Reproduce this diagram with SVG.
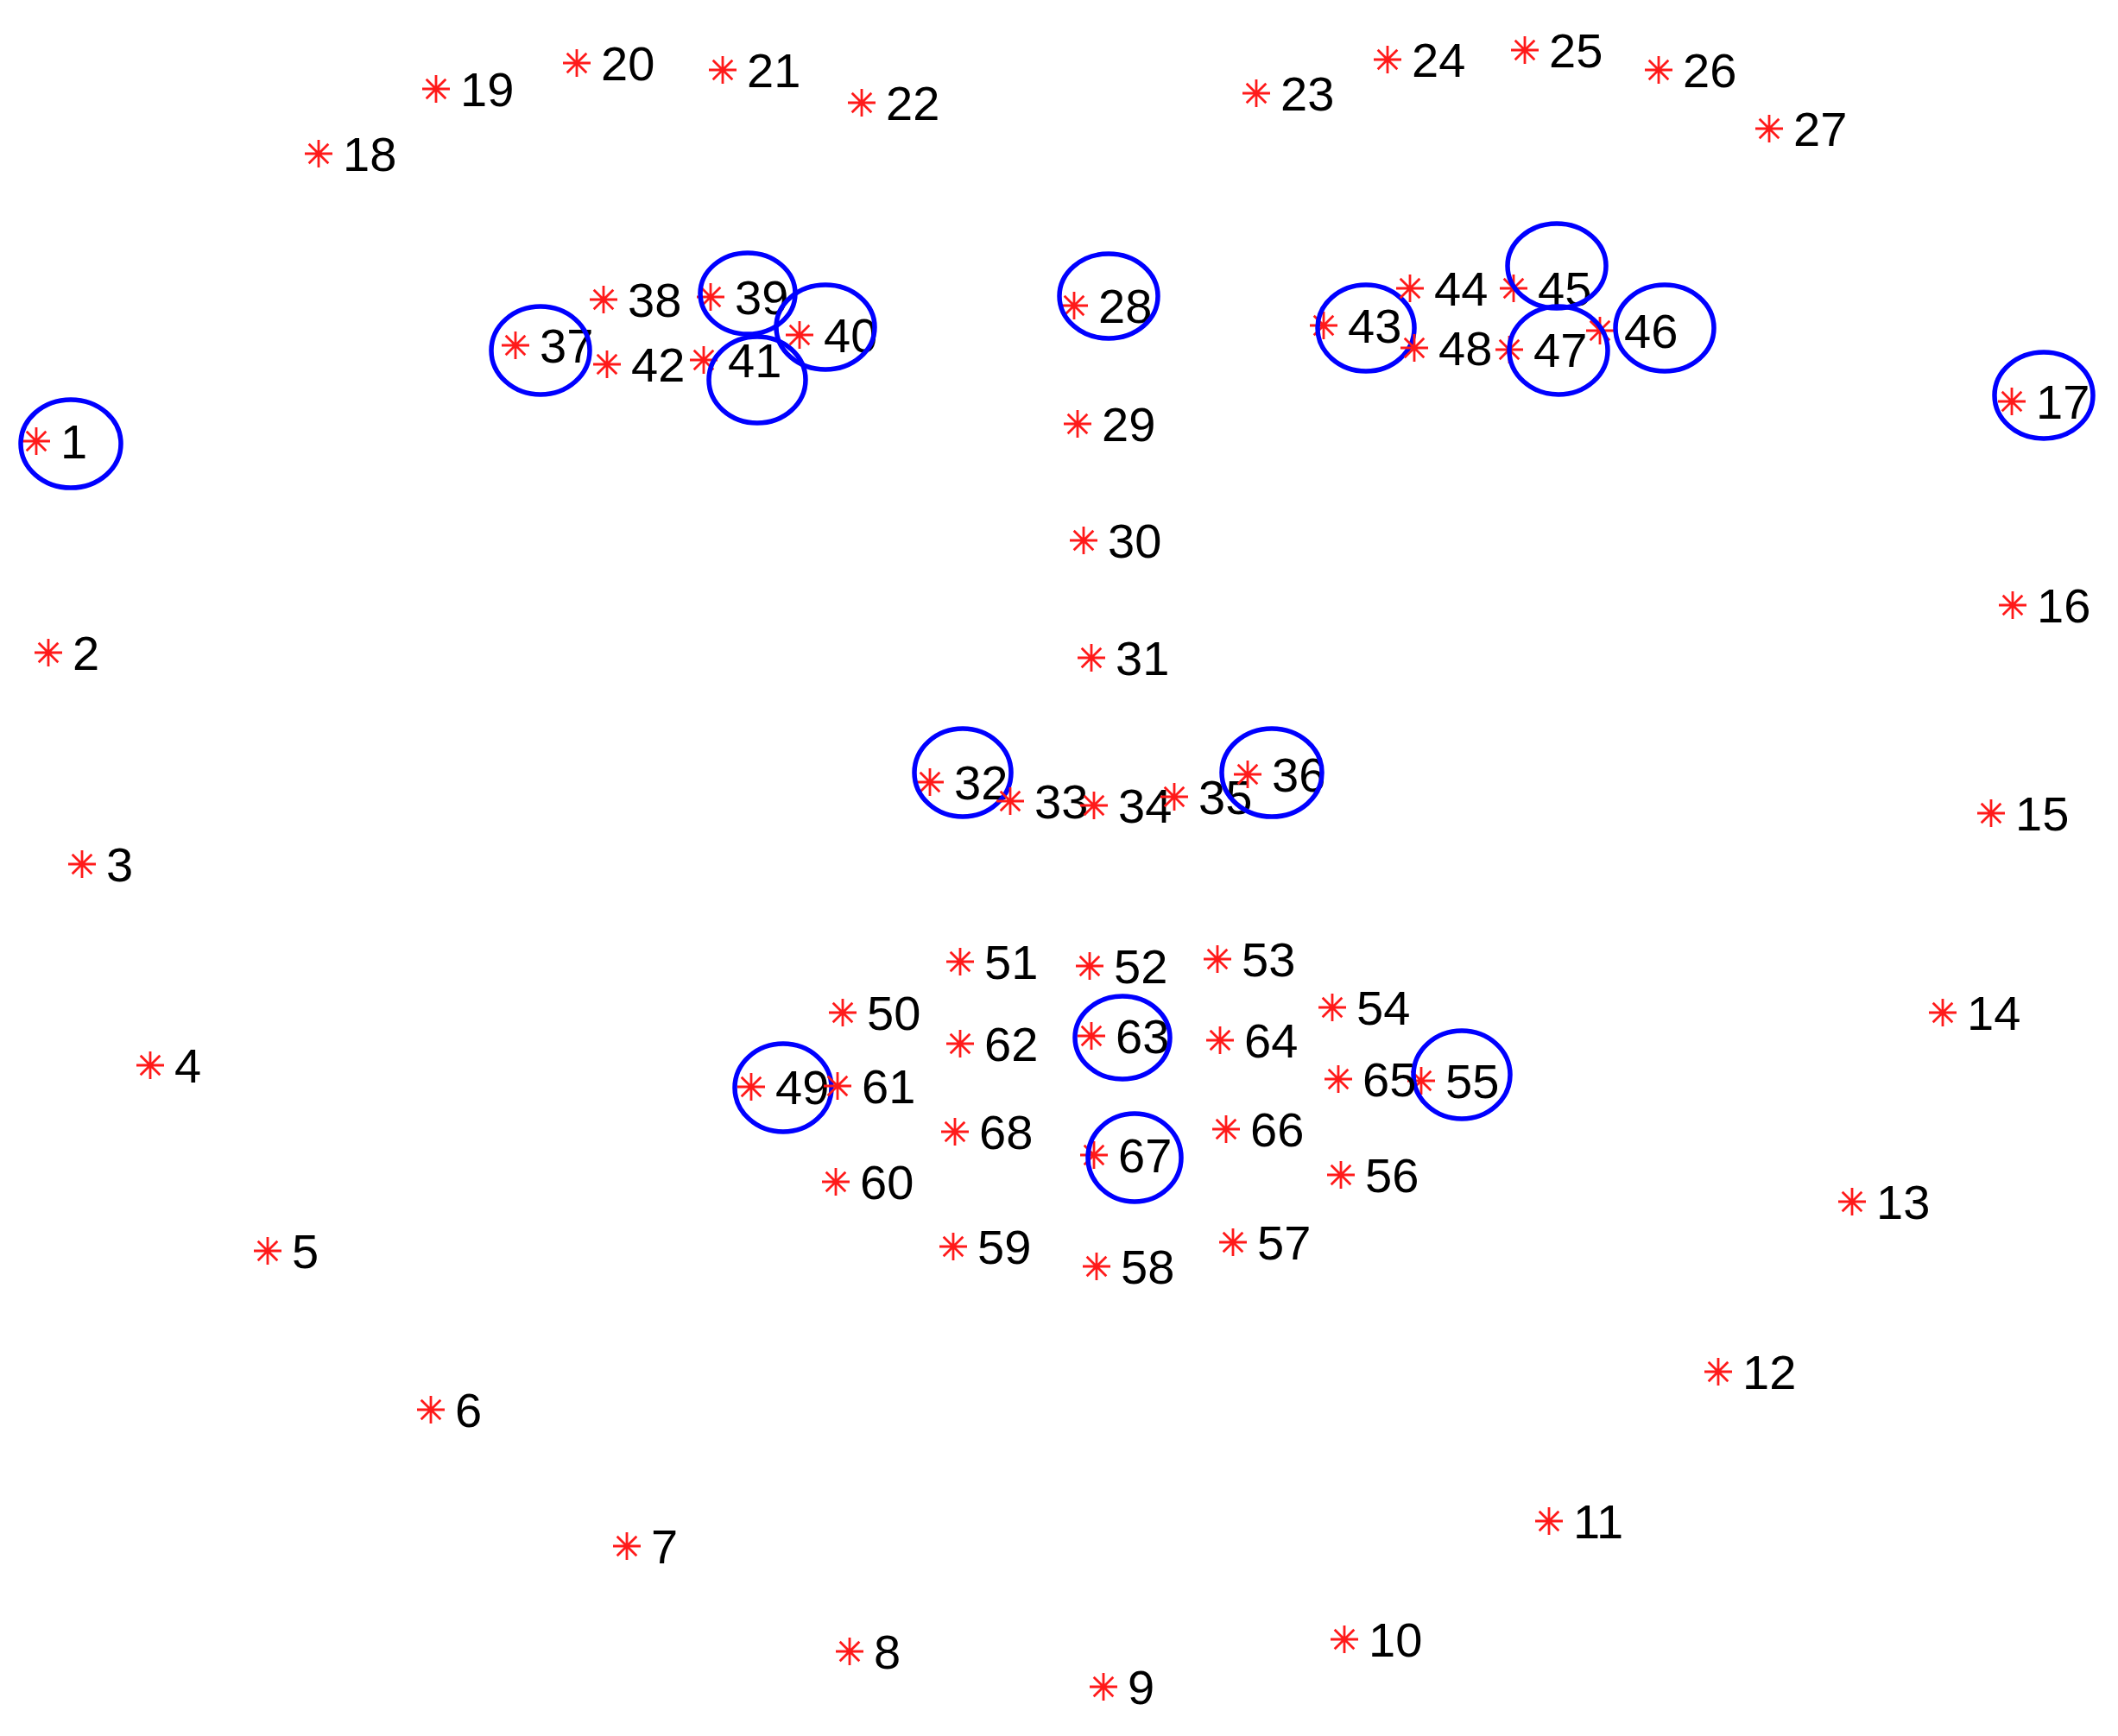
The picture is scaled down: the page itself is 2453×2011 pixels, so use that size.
<svg xmlns="http://www.w3.org/2000/svg" xmlns:xlink="http://www.w3.org/1999/xlink" width="2453" height="2011" viewBox="0 0 2453 2011">
<style>
.s{fill:none;stroke:#ff1a1a;stroke-width:2.8;stroke-linecap:butt}
.t{font-family:"Liberation Sans",Arial,sans-serif;font-size:56px;fill:#000}
.c{fill:none;stroke:#0000ff;stroke-width:5.5}
</style>
<defs>
<path id="st" class="s" d="M-16 0H16M0-16V16M-11.3-11.3L11.3 11.3M-11.3 11.3L11.3-11.3"/>
</defs>
<rect width="2453" height="2011" fill="#fff"/>
<g id="landmarks">
<g id="p1"><use href="#st" x="42" y="511"/><text class="t" x="70" y="531">1</text><ellipse class="c" cx="82" cy="514" rx="58" ry="51"/></g>
<g id="p2"><use href="#st" x="56" y="756"/><text class="t" x="84" y="776">2</text></g>
<g id="p3"><use href="#st" x="95" y="1001"/><text class="t" x="123" y="1021">3</text></g>
<g id="p4"><use href="#st" x="174" y="1234"/><text class="t" x="202" y="1254">4</text></g>
<g id="p5"><use href="#st" x="310" y="1449"/><text class="t" x="338" y="1469">5</text></g>
<g id="p6"><use href="#st" x="499" y="1633"/><text class="t" x="527" y="1653">6</text></g>
<g id="p7"><use href="#st" x="726" y="1791"/><text class="t" x="754" y="1811">7</text></g>
<g id="p8"><use href="#st" x="984" y="1913"/><text class="t" x="1012" y="1933">8</text></g>
<g id="p9"><use href="#st" x="1278" y="1954"/><text class="t" x="1306" y="1974">9</text></g>
<g id="p10"><use href="#st" x="1557" y="1899"/><text class="t" x="1585" y="1919">10</text></g>
<g id="p11"><use href="#st" x="1794" y="1762"/><text class="t" x="1822" y="1782">11</text></g>
<g id="p12"><use href="#st" x="1990" y="1589"/><text class="t" x="2018" y="1609">12</text></g>
<g id="p13"><use href="#st" x="2145" y="1392"/><text class="t" x="2173" y="1412">13</text></g>
<g id="p14"><use href="#st" x="2250" y="1173"/><text class="t" x="2278" y="1193">14</text></g>
<g id="p15"><use href="#st" x="2306" y="942"/><text class="t" x="2334" y="962">15</text></g>
<g id="p16"><use href="#st" x="2331" y="701"/><text class="t" x="2359" y="721">16</text></g>
<g id="p17"><use href="#st" x="2330" y="465"/><text class="t" x="2358" y="485">17</text><ellipse class="c" cx="2367" cy="458" rx="57" ry="50"/></g>
<g id="p18"><use href="#st" x="369" y="178"/><text class="t" x="397" y="198">18</text></g>
<g id="p19"><use href="#st" x="505" y="103"/><text class="t" x="533" y="123">19</text></g>
<g id="p20"><use href="#st" x="668" y="73"/><text class="t" x="696" y="93">20</text></g>
<g id="p21"><use href="#st" x="837" y="81"/><text class="t" x="865" y="101">21</text></g>
<g id="p22"><use href="#st" x="998" y="119"/><text class="t" x="1026" y="139">22</text></g>
<g id="p23"><use href="#st" x="1455" y="108"/><text class="t" x="1483" y="128">23</text></g>
<g id="p24"><use href="#st" x="1607" y="69"/><text class="t" x="1635" y="89">24</text></g>
<g id="p25"><use href="#st" x="1766" y="58"/><text class="t" x="1794" y="78">25</text></g>
<g id="p26"><use href="#st" x="1921" y="81"/><text class="t" x="1949" y="101">26</text></g>
<g id="p27"><use href="#st" x="2049" y="149"/><text class="t" x="2077" y="169">27</text></g>
<g id="p28"><use href="#st" x="1244" y="354"/><text class="t" x="1272" y="374">28</text><ellipse class="c" cx="1284" cy="343" rx="57" ry="49"/></g>
<g id="p29"><use href="#st" x="1248" y="491"/><text class="t" x="1276" y="511">29</text></g>
<g id="p30"><use href="#st" x="1255" y="626"/><text class="t" x="1283" y="646">30</text></g>
<g id="p31"><use href="#st" x="1264" y="762"/><text class="t" x="1292" y="782">31</text></g>
<g id="p32"><use href="#st" x="1077" y="906"/><text class="t" x="1105" y="926">32</text><ellipse class="c" cx="1115" cy="895" rx="56" ry="51"/></g>
<g id="p33"><use href="#st" x="1170" y="928"/><text class="t" x="1198" y="948">33</text></g>
<g id="p34"><use href="#st" x="1267" y="933"/><text class="t" x="1295" y="953">34</text></g>
<g id="p35"><use href="#st" x="1360" y="923"/><text class="t" x="1388" y="943">35</text></g>
<g id="p36"><use href="#st" x="1445" y="897"/><text class="t" x="1473" y="917">36</text><ellipse class="c" cx="1473" cy="895" rx="58" ry="51"/></g>
<g id="p37"><use href="#st" x="597" y="400"/><text class="t" x="625" y="420">37</text><ellipse class="c" cx="626" cy="406" rx="57" ry="51"/></g>
<g id="p38"><use href="#st" x="699" y="347"/><text class="t" x="727" y="367">38</text></g>
<g id="p39"><use href="#st" x="823" y="344"/><text class="t" x="851" y="364">39</text><ellipse class="c" cx="866" cy="340" rx="55" ry="47"/></g>
<g id="p40"><use href="#st" x="926" y="388"/><text class="t" x="954" y="408">40</text><ellipse class="c" cx="956" cy="379" rx="57" ry="49"/></g>
<g id="p41"><use href="#st" x="815" y="417"/><text class="t" x="843" y="437">41</text><ellipse class="c" cx="877" cy="440" rx="56" ry="50"/></g>
<g id="p42"><use href="#st" x="703" y="422"/><text class="t" x="731" y="442">42</text></g>
<g id="p43"><use href="#st" x="1533" y="377"/><text class="t" x="1561" y="397">43</text><ellipse class="c" cx="1582" cy="380" rx="56" ry="50"/></g>
<g id="p44"><use href="#st" x="1633" y="334"/><text class="t" x="1661" y="354">44</text></g>
<g id="p45"><use href="#st" x="1753" y="334"/><text class="t" x="1781" y="354">45</text><ellipse class="c" cx="1803" cy="308" rx="57" ry="49"/></g>
<g id="p46"><use href="#st" x="1853" y="383"/><text class="t" x="1881" y="403">46</text><ellipse class="c" cx="1928" cy="380" rx="57" ry="50"/></g>
<g id="p47"><use href="#st" x="1748" y="405"/><text class="t" x="1776" y="425">47</text><ellipse class="c" cx="1805" cy="406" rx="57" ry="51"/></g>
<g id="p48"><use href="#st" x="1638" y="403"/><text class="t" x="1666" y="423">48</text></g>
<g id="p49"><use href="#st" x="870" y="1259"/><text class="t" x="898" y="1279">49</text><ellipse class="c" cx="907" cy="1260" rx="56" ry="51"/></g>
<g id="p50"><use href="#st" x="976" y="1173"/><text class="t" x="1004" y="1193">50</text></g>
<g id="p51"><use href="#st" x="1112" y="1114"/><text class="t" x="1140" y="1134">51</text></g>
<g id="p52"><use href="#st" x="1262" y="1119"/><text class="t" x="1290" y="1139">52</text></g>
<g id="p53"><use href="#st" x="1410" y="1111"/><text class="t" x="1438" y="1131">53</text></g>
<g id="p54"><use href="#st" x="1543" y="1167"/><text class="t" x="1571" y="1187">54</text></g>
<g id="p55"><use href="#st" x="1646" y="1252"/><text class="t" x="1674" y="1272">55</text><ellipse class="c" cx="1693" cy="1245" rx="56" ry="51"/></g>
<g id="p56"><use href="#st" x="1553" y="1361"/><text class="t" x="1581" y="1381">56</text></g>
<g id="p57"><use href="#st" x="1428" y="1439"/><text class="t" x="1456" y="1459">57</text></g>
<g id="p58"><use href="#st" x="1270" y="1467"/><text class="t" x="1298" y="1487">58</text></g>
<g id="p59"><use href="#st" x="1104" y="1444"/><text class="t" x="1132" y="1464">59</text></g>
<g id="p60"><use href="#st" x="968" y="1369"/><text class="t" x="996" y="1389">60</text></g>
<g id="p61"><use href="#st" x="970" y="1258"/><text class="t" x="998" y="1278">61</text></g>
<g id="p62"><use href="#st" x="1112" y="1209"/><text class="t" x="1140" y="1229">62</text></g>
<g id="p63"><use href="#st" x="1264" y="1200"/><text class="t" x="1292" y="1220">63</text><ellipse class="c" cx="1300" cy="1202" rx="55" ry="48"/></g>
<g id="p64"><use href="#st" x="1413" y="1205"/><text class="t" x="1441" y="1225">64</text></g>
<g id="p65"><use href="#st" x="1550" y="1250"/><text class="t" x="1578" y="1270">65</text></g>
<g id="p66"><use href="#st" x="1420" y="1308"/><text class="t" x="1448" y="1328">66</text></g>
<g id="p67"><use href="#st" x="1267" y="1338"/><text class="t" x="1295" y="1358">67</text><ellipse class="c" cx="1314" cy="1341" rx="54" ry="51"/></g>
<g id="p68"><use href="#st" x="1106" y="1311"/><text class="t" x="1134" y="1331">68</text></g>
</g>
</svg>
